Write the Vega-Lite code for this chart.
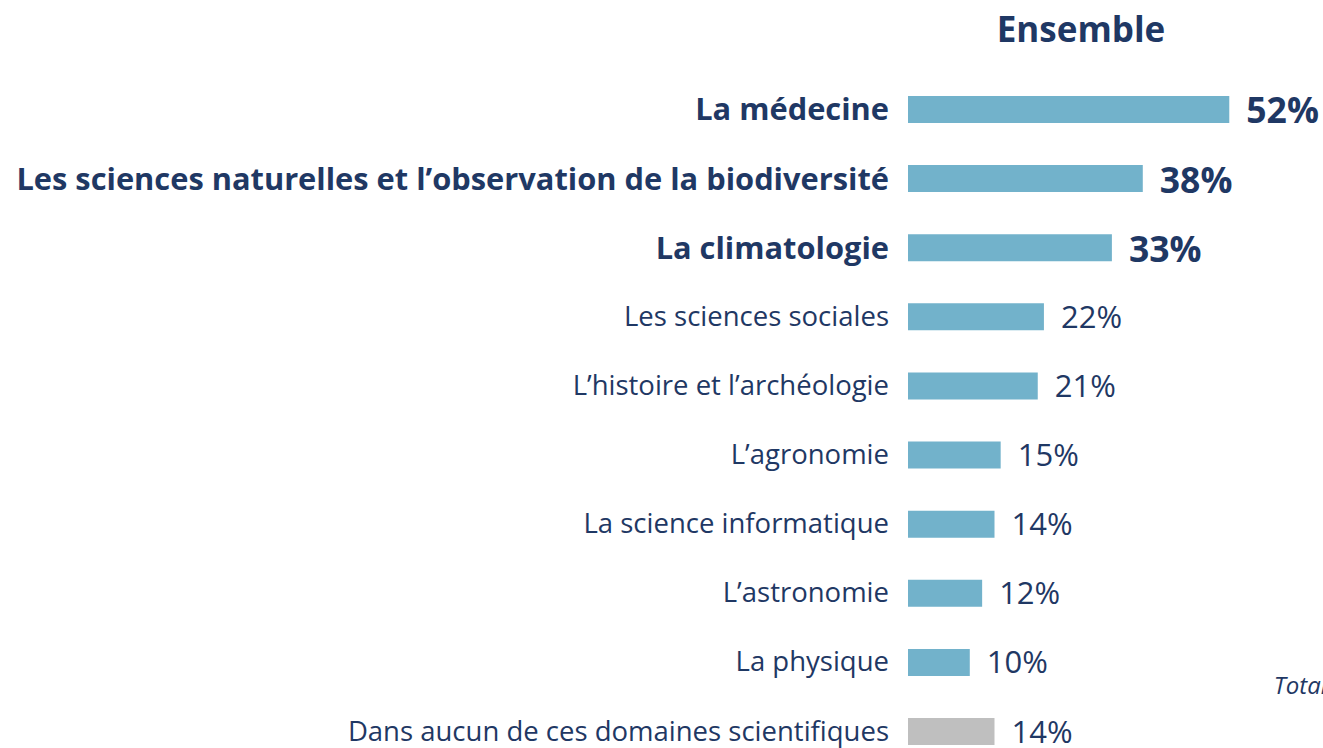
{
  "$schema": "https://vega.github.io/schema/vega-lite/v6.json",
  "autosize": {"type": "none"},
  "width": 346,
  "height": 649,
  "padding": {"left": 908, "top": 96, "right": 69, "bottom": 3},
  "background": "white",
  "config": {"view": {"stroke": null}, "font": "Open Sans"},
  "title": {"text": "Ensemble", "fontSize": 35, "font": "Open Sans", "fontWeight": "bold", "color": "#1F3864", "anchor": "middle", "offset": 46},
  "data": {"values": [
    {"cat": "La médecine", "value": 52},
    {"cat": "Les sciences naturelles et l’observation de la biodiversité", "value": 38},
    {"cat": "La climatologie", "value": 33},
    {"cat": "Les sciences sociales", "value": 22},
    {"cat": "L’histoire et l’archéologie", "value": 21},
    {"cat": "L’agronomie", "value": 15},
    {"cat": "La science informatique", "value": 14},
    {"cat": "L’astronomie", "value": 12},
    {"cat": "La physique", "value": 10},
    {"cat": "Dans aucun de ces domaines scientifiques", "value": 14}
  ]},
  "encoding": {
    "y": {"field": "cat", "type": "nominal", "sort": null,
      "scale": {"paddingInner": 0.61, "paddingOuter": 0}, "axis": null},
    "x": {"field": "value", "type": "quantitative", "scale": {"domain": [0, 56], "nice": false}, "axis": null}
  },
  "layer": [
    {"mark": {"type": "bar"},
      "encoding": {"color": {"condition": {"test": "datum.cat === 'Dans aucun de ces domaines scientifiques'", "value": "#BFBFBF"}, "value": "#72B2CB"}}},
    {"transform": [{"filter": "datum.value >= 30"}],
      "mark": {"type": "text", "align": "right", "baseline": "middle", "dx": -19, "dy": 2, "fontSize": 30.8, "fontWeight": "bold", "color": "#1F3864"},
      "encoding": {"x": {"datum": 0}, "text": {"field": "cat"}}},
    {"transform": [{"filter": "datum.value < 30"}],
      "mark": {"type": "text", "align": "right", "baseline": "middle", "dx": -19, "dy": 1, "fontSize": 27.5, "color": "#1F3864"},
      "encoding": {"x": {"datum": 0}, "text": {"field": "cat"}}},
    {"transform": [{"filter": "datum.value >= 30"}, {"calculate": "datum.value + '%'", "as": "lab"}],
      "mark": {"type": "text", "align": "left", "baseline": "middle", "dx": 17, "dy": 3, "fontSize": 35.5, "fontWeight": "bold", "color": "#1F3864"},
      "encoding": {"text": {"field": "lab"}}},
    {"transform": [{"filter": "datum.value < 30"}, {"calculate": "datum.value + '%'", "as": "lab"}],
      "mark": {"type": "text", "align": "left", "baseline": "middle", "dx": 17, "dy": 2, "fontSize": 31, "color": "#1F3864"},
      "encoding": {"text": {"field": "lab"}}},
    {"data": {"values": [{"t": "Total", "cat": "La physique", "value": 59.2}]},
      "mark": {"type": "text", "align": "left", "baseline": "middle", "dy": 25, "fontSize": 24, "fontStyle": "italic", "color": "#1F3864"},
      "encoding": {"text": {"field": "t"}}}
  ]
}
